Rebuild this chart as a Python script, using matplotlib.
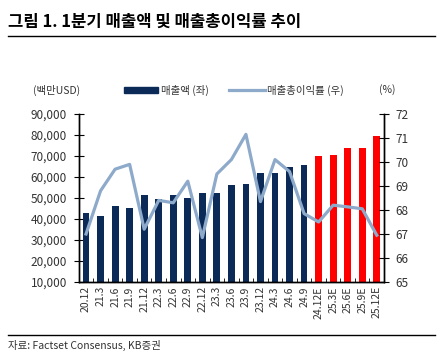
import matplotlib
matplotlib.use("Agg")
import matplotlib.pyplot as plt
import numpy as np

plt.rcParams['font.family'] = ['Noto Sans CJK KR', 'DejaVu Sans']

quarters = ['20.12', '21.3', '21.6', '21.9', '21.12', '22.3', '22.6', '22.9',
            '22.12', '23.3', '23.6', '23.9', '23.12', '24.3', '24.6', '24.9',
            '24.12E', '25.3E', '25.6E', '25.9E', '25.12E']
sales = [42700, 41600, 46000, 45200, 51600, 49400, 51600, 50000,
         52500, 52600, 56200, 56500, 62000, 62000, 64700, 65500,
         70000, 70500, 73800, 73800, 79600]
gross_margin = [67.0, 68.8, 69.7, 69.9, 67.2, 68.4, 68.3, 69.2,
                66.85, 69.5, 70.1, 71.15, 68.35, 70.1, 69.6, 67.85,
                67.5, 68.2, 68.13, 68.05, 66.95]
n_actual = 16

navy = '#0b2a58'
red = '#ff0000'
line_c = '#8eaacb'
txt = '#333333'

fig = plt.figure(figsize=(4.45, 3.6), dpi=100)
ax = fig.add_axes([0.177, 0.2167, 0.686, 0.4667])
ax2 = ax.twinx()

x = np.arange(len(quarters))
colors = [navy] * n_actual + [red] * (len(quarters) - n_actual)
ax.bar(x, sales, width=0.47, color=colors, zorder=2)
ax2.plot(x, gross_margin, color=line_c, lw=2.3, zorder=3)

ax.set_xlim(-0.5, len(quarters) - 0.5)
ax.set_ylim(10000, 90000)
ax.set_yticks(np.arange(10000, 90001, 10000))
ax.set_yticklabels([f'{v:,}' for v in range(10000, 90001, 10000)])
ax2.set_ylim(65, 72)
ax2.set_yticks(range(65, 73))

ax.set_xticks(x)
ax.set_xticklabels(quarters, rotation=90, fontsize=7.5, color=txt)
ax.set_xticks(np.arange(-0.5, len(quarters), 1), minor=True)
ax.tick_params(axis='x', which='major', length=0, pad=3)
ax.tick_params(axis='x', which='minor', length=3, direction='in', color='black')
ax.tick_params(axis='y', length=7, direction='inout', labelsize=8.5, labelcolor=txt, pad=5)
ax2.tick_params(axis='y', length=7, direction='inout', labelsize=8.5, labelcolor=txt, pad=5)

for a in (ax, ax2):
    a.spines['top'].set_visible(False)
    for s in ('left', 'right', 'bottom'):
        a.spines[s].set_linewidth(1.0)
ax.set_zorder(ax2.get_zorder() - 1)
ax2.patch.set_visible(False)
ax.patch.set_visible(False)

# title and frame lines
fig.text(0.018, 0.94, '그림 1. 1분기 매출액 및 매출총이익률 추이', fontsize=12,
         fontweight='bold', color='black', va='center')
fig.add_artist(plt.Line2D([0.018, 0.978], [0.9, 0.9], color='black', lw=1.0))
fig.add_artist(plt.Line2D([0.018, 0.978], [0.07, 0.07], color='black', lw=1.0))
fig.text(0.018, 0.039, '자료: Factset Consensus, KB증권', fontsize=7.5, color=txt, va='center')

# legend and unit labels
ly = 0.75
fig.text(0.074, ly, '(백만USD)', fontsize=7.5, color=txt, va='center')
fig.text(0.852, ly, '(%)', fontsize=7.5, color=txt, va='center')
fig.add_artist(plt.Rectangle((0.279, ly - 0.007), 0.076, 0.014, color=navy))
fig.text(0.362, ly, '매출액 (좌)', fontsize=7.5, color=txt, va='center')
fig.add_artist(plt.Line2D([0.515, 0.596], [ly, ly], color=line_c, lw=2.3))
fig.text(0.6, ly, '매출총이익률 (우)', fontsize=7.5, color=txt, va='center')

fig.savefig('out.png', dpi=100)
